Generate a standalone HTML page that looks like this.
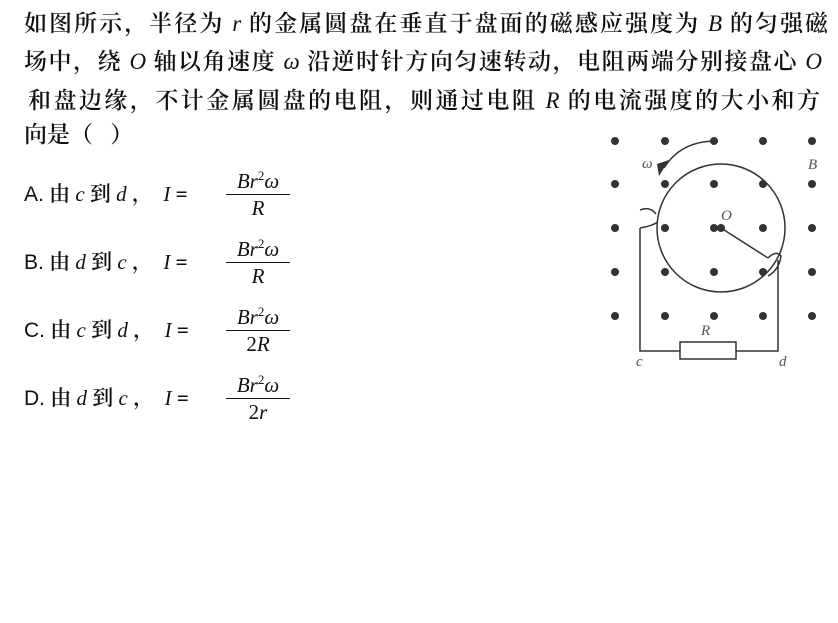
<!DOCTYPE html>
<html><head><meta charset="utf-8"><style>
body{margin:0;width:838px;height:623px;background:#fff;position:relative;overflow:hidden;font-family:"Liberation Serif","Noto Serif CJK SC",serif;color:#111}
.l{position:absolute;font-size:23px;line-height:30px;white-space:nowrap;text-align:justify;text-align-last:justify;font-weight:600}
i{font-family:"Liberation Serif",serif;font-style:italic;font-weight:normal}
.o{position:absolute;left:24px;font-size:21px;line-height:28px;white-space:nowrap;font-weight:600}
.o .s{font-family:"Liberation Sans",sans-serif;font-weight:normal}
.f{position:absolute;left:226px;width:64px;text-align:center;font-size:21px;line-height:26px}
.f .n{border-bottom:1.5px solid #111}
</style></head><body>
<div class="l" style="left:24px;top:9px;width:804px">如图所示，半径为 <i>r</i> 的金属圆盘在垂直于盘面的磁感应强度为 <i>B</i> 的匀强磁</div>
<div class="l" style="left:24px;top:47px;width:798px">场中，绕 <i>O</i> 轴以角速度 <i>ω</i> 沿逆时针方向匀速转动，电阻两端分别接盘心 <i>O</i></div>
<div class="l" style="left:28px;top:86px;width:792px">和盘边缘，不计金属圆盘的电阻，则通过电阻 <i>R</i> 的电流强度的大小和方</div>
<div class="l" style="left:24px;top:120px;text-align-last:auto">向是（&nbsp;&nbsp;&nbsp;）</div>

<div class="o" style="top:180px"><span class="s">A.</span> 由 <i>c</i> 到 <i>d</i> ，&nbsp; <i>I</i> =</div>
<div class="f" style="top:163px"><div class="n"><i>Br</i><sup style="font-size:13px">2</sup><i>ω</i></div><div><i>R</i></div></div>
<div class="o" style="top:248px"><span class="s">B.</span> 由 <i>d</i> 到 <i>c</i> ，&nbsp; <i>I</i> =</div>
<div class="f" style="top:231px"><div class="n"><i>Br</i><sup style="font-size:13px">2</sup><i>ω</i></div><div><i>R</i></div></div>
<div class="o" style="top:316px"><span class="s">C.</span> 由 <i>c</i> 到 <i>d</i> ，&nbsp; <i>I</i> =</div>
<div class="f" style="top:299px"><div class="n"><i>Br</i><sup style="font-size:13px">2</sup><i>ω</i></div><div>2<i>R</i></div></div>
<div class="o" style="top:384px"><span class="s">D.</span> 由 <i>d</i> 到 <i>c</i> ，&nbsp; <i>I</i> =</div>
<div class="f" style="top:367px"><div class="n"><i>Br</i><sup style="font-size:13px">2</sup><i>ω</i></div><div>2<i>r</i></div></div>

<svg style="position:absolute;left:0;top:0" width="838" height="623">
<g fill="#333">
<circle cx="615" cy="141" r="4"/><circle cx="665" cy="141" r="4"/><circle cx="714" cy="141" r="4"/><circle cx="763" cy="141" r="4"/><circle cx="812" cy="141" r="4"/>
<circle cx="615" cy="184" r="4"/><circle cx="665" cy="184" r="4"/><circle cx="714" cy="184" r="4"/><circle cx="763" cy="184" r="4"/><circle cx="812" cy="184" r="4"/>
<circle cx="615" cy="228" r="4"/><circle cx="665" cy="228" r="4"/><circle cx="714" cy="228" r="4"/><circle cx="721" cy="228" r="4"/><circle cx="763" cy="228" r="4"/><circle cx="812" cy="228" r="4"/>
<circle cx="615" cy="272" r="4"/><circle cx="665" cy="272" r="4"/><circle cx="714" cy="272" r="4"/><circle cx="763" cy="272" r="4"/><circle cx="812" cy="272" r="4"/>
<circle cx="615" cy="316" r="4"/><circle cx="665" cy="316" r="4"/><circle cx="714" cy="316" r="4"/><circle cx="763" cy="316" r="4"/><circle cx="812" cy="316" r="4"/>
</g>
<g fill="none" stroke="#333" stroke-width="1.5">
<circle cx="721" cy="228" r="64"/>
<path d="M714 141 Q680 142 664 168"/>
<path d="M721 228 L768 258"/>
<path d="M768 258 Q776 250 781 256 Q779 270 768 276"/>
<path d="M640 228 L640 351 L680 351 M736 351 L778 351 L778 260"/>
<path d="M640 228 Q652 226 658 222 M640 210 Q650 206 656 214"/>
<rect x="680" y="342" width="56" height="17"/>
</g>
<path d="M659 176 L669 160 L657 164 Z" fill="#333"/>
<g font-family="Liberation Serif,serif" font-style="italic" fill="#555" font-size="15">
<text x="642" y="168">ω</text><text x="808" y="169">B</text><text x="721" y="220">O</text><text x="701" y="335">R</text><text x="636" y="366">c</text><text x="779" y="366">d</text>
</g>
</svg>
</body></html>
